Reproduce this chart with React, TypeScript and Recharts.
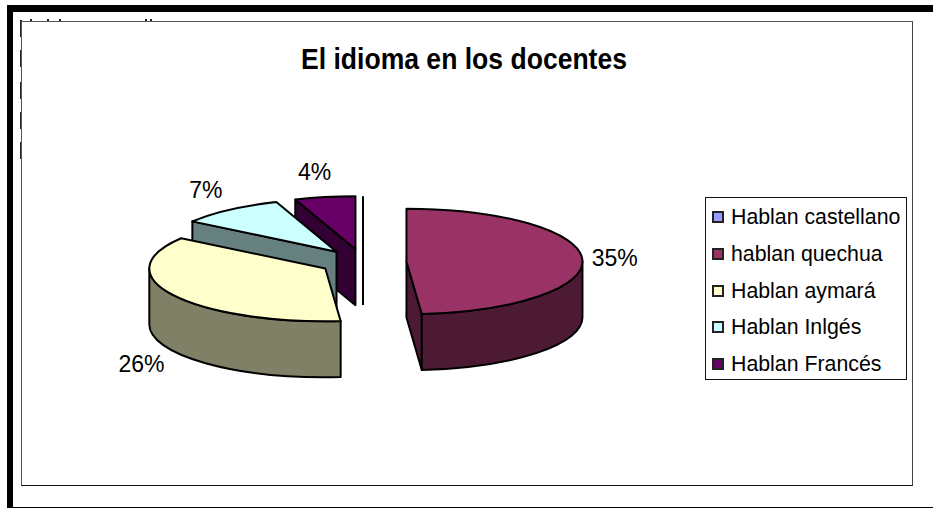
import { PieChart, Pie, Legend } from "recharts";

const categories = ["Hablan castellano", "hablan quechua", "Hablan aymará", "Hablan Inlgés", "Hablan Francés"];
const percents = [0, 35, 26, 7, 4];
const topColors = ["#9999FF", "#993366", "#FFFFCC", "#CCFFFF", "#660066"];
const sideColors = ["#4D4D80", "#4D1A33", "#808066", "#668080", "#330033"];

// remains of the clipped text behind the chart
const topTicks = [30, 47, 59, 145, 150];
const leftDashes = [20, 50, 82, 112, 142];

const FONT = '"Liberation Sans", Arial, sans-serif';
const TILT = 0.3;
const EXPLODE = 43.5;
const DEPTH = 56;

// drawn back to front, so the pie goes counter-clockwise from the last category
const table = categories
  .map((name, i) => ({ name, value: percents[i], fill: topColors[i], side: sideColors[i] }))
  .slice(1)
  .reverse()
  .concat([{ name: categories[0], value: percents[0], fill: topColors[0], side: sideColors[0] }]);

const rad = (a: number) => (a * Math.PI) / 180;

function Slice3D(props: any) {
  const { cx, cy, outerRadius: r, startAngle: a1, endAngle: a2, fill, payload } = props;
  const side = props.side ?? payload?.side;
  const mid = (a1 + a2) / 2;
  const ry = r * TILT;
  const px = cx + EXPLODE * Math.cos(rad(mid));
  const py = cy - EXPLODE * Math.sin(rad(mid)) * TILT;
  const pt = (a: number, down = 0) =>
    `${px + r * Math.cos(rad(a))} ${py - ry * Math.sin(rad(a)) + down}`;
  const line = { stroke: "#000", strokeWidth: 2, strokeLinejoin: "round" as const };

  if (a2 - a1 < 0.01) {
    return <path d={`M${pt(a1)} L${px} ${py} L${px} ${py + DEPTH}`} fill="none" {...line} />;
  }

  const face = (a: number) =>
    `M${px} ${py} L${pt(a)} L${pt(a, DEPTH)} L${px} ${py + DEPTH} Z`;
  const s = Math.max(a1, 180);
  const e = Math.min(a2, 360);
  const large = a2 - a1 > 180 ? 1 : 0;

  return (
    <g>
      {Math.cos(rad(a1)) > 0.001 && <path d={face(a1)} fill={side} {...line} />}
      {Math.cos(rad(a2)) < -0.001 && <path d={face(a2)} fill={side} {...line} />}
      {e > s && (
        <path
          d={`M${pt(s)} A${r} ${ry} 0 0 0 ${pt(e)} L${pt(e, DEPTH)} A${r} ${ry} 0 0 1 ${pt(s, DEPTH)} Z`}
          fill={side}
          {...line}
        />
      )}
      <path d={`M${px} ${py} L${pt(a1)} A${r} ${ry} 0 ${large} 0 ${pt(a2)} Z`} fill={fill} {...line} />
    </g>
  );
}

function SliceLabel(props: any) {
  const { cx, cy, midAngle, value } = props;
  if (!value) return null;
  const c = Math.cos(rad(midAngle));
  const sn = Math.sin(rad(midAngle));
  const x = cx + 250 * c + (c < 0 ? -5 : 2);
  const y = cy - EXPLODE * sn * TILT - 78 * sn + (sn < 0 ? DEPTH : 0);
  return (
    <text x={x} y={y} textAnchor="middle" dominantBaseline="central" fontSize={23} fontFamily={FONT} fill="#000">
      {value}%
    </text>
  );
}

function LegendBox() {
  return (
    <div
      style={{
        boxSizing: "border-box",
        width: 202,
        height: 183,
        border: "1px solid #111",
        background: "#fff",
        padding: "1px 0 0 6px",
        fontFamily: FONT,
        fontSize: 22.5,
        color: "#000",
      }}
    >
      {categories.map((name, i) => (
        <div key={name} style={{ display: "flex", alignItems: "center", height: 36.7, whiteSpace: "nowrap" }}>
          <span
            style={{
              boxSizing: "border-box",
              flex: "none",
              width: 12,
              height: 12,
              marginRight: 7,
              background: topColors[i],
              border: "2px solid #222",
            }}
          />
          <span style={{ display: "inline-block", transform: "scaleX(0.947)", transformOrigin: "left center" }}>{name}</span>
        </div>
      ))}
    </div>
  );
}

export default function App() {
  return (
    <div style={{ position: "absolute", left: 0, top: 0, width: 933, height: 508, background: "#fff", overflow: "hidden" }}>
      <div style={{ position: "absolute", left: 7, top: 5, right: 0, height: 6.5, background: "#000" }} />
      <div style={{ position: "absolute", left: 7, top: 5, bottom: 0, width: 5.5, background: "#000" }} />
      <div style={{ position: "absolute", left: 7, right: 0, top: 507, height: 1, background: "#000" }} />
      {topTicks.map((x) => (
        <div key={x} style={{ position: "absolute", left: x, top: 19, width: 2, height: 3, background: "#222" }} />
      ))}
      {leftDashes.map((y) => (
        <div key={y} style={{ position: "absolute", left: 19.5, top: y, width: 2, height: 17, background: "#222" }} />
      ))}
      <div
        style={{
          position: "absolute",
          left: 21,
          top: 21,
          width: 892,
          height: 465,
          boxSizing: "border-box",
          borderTop: "1.5px solid #555",
          borderLeft: "1.5px solid #555",
          borderRight: "1.5px solid #444",
          borderBottom: "1.5px solid #111",
        }}
      />
      <div style={{ position: "absolute", left: 0, top: 0 }}>
        <PieChart width={933} height={508} margin={{ top: 0, right: 0, bottom: 0, left: 0 }}>
          <text
            x={464}
            y={58}
            textAnchor="middle"
            dominantBaseline="central"
            fontSize={29.5}
            fontWeight="bold"
            fontFamily={FONT}
            fill="#000"
            textLength={326}
            lengthAdjust="spacingAndGlyphs"
          >
            El idioma en los docentes
          </text>
          <Pie
            data={table}
            dataKey="value"
            nameKey="name"
            cx={363}
            cy={262}
            outerRadius={176}
            startAngle={90}
            endAngle={450}
            shape={Slice3D}
            label={SliceLabel}
            labelLine={false}
            isAnimationActive={false}
          />
          <Legend
            content={LegendBox}
            wrapperStyle={{ position: "absolute", left: 705, top: 197, width: 202, height: 183 }}
          />
        </PieChart>
      </div>
    </div>
  );
}
